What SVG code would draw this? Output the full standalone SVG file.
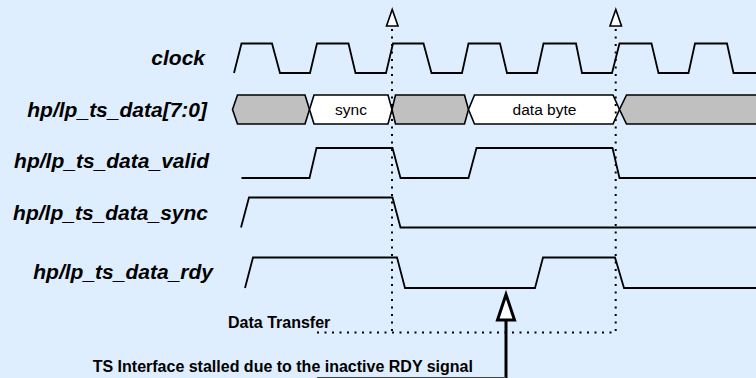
<svg xmlns="http://www.w3.org/2000/svg" width="756" height="378" viewBox="0 0 756 378">
<style>
.bg{fill:#DEEEFE}
.lbl{font-family:"Liberation Sans",Arial,sans-serif;font-weight:bold;font-style:italic;font-size:21px;fill:#000;text-anchor:end}
.wave{fill:none;stroke:#000;stroke-width:1.8;stroke-linejoin:miter}
.busG{fill:#C0C0C0;stroke:#000;stroke-width:1.6}
.busW{fill:#FFFFFF;stroke:#000;stroke-width:1.6}
.bt{font-family:"Liberation Sans",Arial,sans-serif;font-size:15.5px;fill:#000;text-anchor:middle}
.note{font-family:"Liberation Sans",Arial,sans-serif;font-weight:bold;font-size:16px;fill:#000}
.dot{fill:none;stroke:#000;stroke-width:2;stroke-dasharray:2 5.5}
.tri{fill:#FFFFFF;stroke:#000;stroke-width:1.6}
</style>
<rect class="bg" x="0" y="0" width="756" height="378"/>

<g id="clock">
<text class="lbl" x="205" y="65">clock</text>
<path class="wave" d="M234,73 L241.5,43.5 L272,43.5 L280,73 L310,73 L317,43.5 L348.5,43.5 L355.5,73 L386,73 L393,43.5 L423.5,43.5 L431.5,73 L462,73 L468.5,43.5 L500,43.5 L507,73 L537,73 L543.5,43.5 L576,43.5 L582,73 L612,73 L619.5,43.5 L651.5,43.5 L658.5,73 L688.5,73 L695,43.5 L727,43.5 L733.5,73 L757,73"/>
</g>

<g id="data">
<text class="lbl" x="207" y="117">hp/lp_ts_data[7:0]</text>
<polygon class="busG" points="232.5,109.5 237.5,95 305,95 309.5,109.5 305,124 237.5,124"/>
<polygon class="busW" points="309.5,109.5 314,95 388,95 392,109.5 388,124 314,124"/>
<polygon class="busG" points="392,109.5 395.5,95 464.5,95 468.5,109.5 464.5,124 395.5,124"/>
<polygon class="busW" points="468.5,109.5 474.5,95 613,95 619.5,109.5 613,124 474.5,124"/>
<polygon class="busG" points="619.5,109.5 626.5,95 760,95 760,124 626.5,124"/>
<text class="bt" x="351" y="115">sync</text>
<text class="bt" x="544.5" y="115">data byte</text>
</g>

<g id="valid">
<text class="lbl" x="209" y="168">hp/lp_ts_data_valid</text>
<path class="wave" d="M241.5,178 L309.5,178 L316.5,148 L392.5,148 L400.5,178 L468.5,178 L476.5,148 L612.5,148 L619.5,178 L757,178"/>
</g>

<g id="sync">
<text class="lbl" x="208" y="220">hp/lp_ts_data_sync</text>
<path class="wave" d="M241,227.5 L249,197.5 L392.5,197.5 L400.5,227.5 L757,227.5"/>
</g>

<g id="rdy">
<text class="lbl" x="213" y="279">hp/lp_ts_data_rdy</text>
<path class="wave" d="M245,288 L253,257.5 L397,257.5 L405,288 L535,288 L543,257.5 L615,257.5 L624,288 L757,288"/>
</g>

<g id="connectors">
<line class="dot" x1="392" y1="29" x2="392" y2="332.5"/>
<line class="dot" x1="615.7" y1="29" x2="615.7" y2="332.5"/>
<line class="dot" x1="317" y1="332.5" x2="616" y2="332.5"/>
<polygon class="tri" points="392.2,9.5 386.5,26 398,26"/>
<polygon class="tri" points="615.8,9.5 610,26 621.5,26"/>
<line x1="506" y1="319" x2="506" y2="378" stroke="#000" stroke-width="3"/>
<polygon points="506,294.5 497.5,320 514.5,320" fill="#FFFFFF" stroke="#000" stroke-width="3" stroke-linejoin="miter"/>
<line x1="317" y1="377.5" x2="506" y2="377.5" stroke="#444" stroke-width="1"/>
</g>

<g id="annotations">
<text class="note" x="228" y="328">Data Transfer</text>
<text class="note" x="92.7" y="371.5">TS Interface stalled due to the inactive RDY signal</text>
</g>
</svg>
